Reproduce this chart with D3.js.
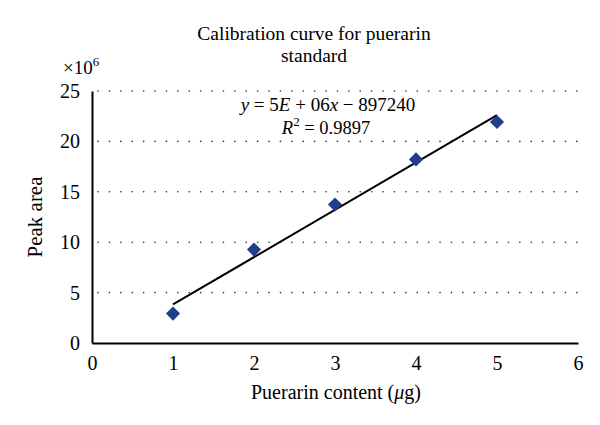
<!DOCTYPE html>
<html>
<head>
<meta charset="utf-8">
<script src="https://cdn.jsdelivr.net/npm/d3@7"></script>
<style>
    body { margin: 0; background: #fff; }
    svg text { font-family: "Liberation Serif", "DejaVu Serif", serif; fill: #000; }
</style>
</head>
<body>
<svg id="chart" width="600" height="425"></svg>
<script>
'use strict';

// puerarin content (ug) and peak area (x10^6)
const contents = [1, 2, 3, 4, 5];
const peakAreas = [2.92, 9.27, 13.74, 18.21, 21.92];
const xTicks = [0, 1, 2, 3, 4, 5, 6];
const yTicks = [0, 5, 10, 15, 20, 25];

const M = { left: 92, right: 22, top: 91, bottom: 82 };
const W = 600, H = 425;

let svg = d3.select('#chart');

let x = d3.scaleLinear().domain([0, 6]).range([M.left, W - M.right]);
let y = d3.scaleLinear().domain([0, 25]).range([H - M.bottom, M.top]);

// dotted grid
svg.append('g')
    .selectAll('line')
    .data(yTicks.filter((d) => d > 0))
    .enter()
    .append('line')
    .attr('x1', x(0) + 6)
    .attr('x2', x(6))
    .attr('y1', (d) => y(d))
    .attr('y2', (d) => y(d))
    .attr('stroke', '#333')
    .attr('stroke-width', 1.6)
    .attr('stroke-linecap', 'round')
    .attr('stroke-dasharray', '0.1 11.3');

// axes
let xAxis = svg.append('g')
    .attr('transform', `translate(0,${y(0)})`)
    .call(d3.axisBottom(x).tickValues(xTicks).tickFormat(d3.format('d')).tickSize(0).tickPadding(10));
let yAxis = svg.append('g')
    .attr('transform', `translate(${x(0)},0)`)
    .call(d3.axisLeft(y).tickValues(yTicks).tickFormat(d3.format('d')).tickSize(0).tickPadding(12));

[xAxis, yAxis].forEach((g) => {
    g.select('.domain').attr('stroke', '#000').attr('stroke-width', 2);
    g.selectAll('text').style('font-size', '20px').attr('fill', '#000');
});
xAxis.selectAll('text').attr('dy', '0.85em');

// least squares trend line
let mx = d3.mean(contents), my = d3.mean(peakAreas);
let slope = d3.sum(contents, (c, i) => (c - mx) * (peakAreas[i] - my)) /
    d3.sum(contents, (c) => (c - mx) * (c - mx));
let icpt = my - slope * mx;
let ends = [d3.min(contents), d3.max(contents)];

svg.append('line')
    .attr('x1', x(ends[0]))
    .attr('y1', y(slope * ends[0] + icpt))
    .attr('x2', x(ends[1]))
    .attr('y2', y(slope * ends[1] + icpt))
    .attr('stroke', '#000')
    .attr('stroke-width', 2);

// diamonds
svg.append('g')
    .selectAll('path')
    .data(contents)
    .enter()
    .append('path')
    .attr('d', d3.symbol().type(d3.symbolSquare).size(100))
    .attr('transform', (d, i) => `translate(${x(d)},${y(peakAreas[i])}) rotate(45)`)
    .attr('fill', '#1f3f8c');

// titles
let title = svg.append('text')
    .attr('x', 314)
    .attr('y', 40)
    .attr('text-anchor', 'middle')
    .style('font-size', '19.5px');
title.append('tspan').text('Calibration curve for puerarin');
title.append('tspan').attr('x', 314).attr('dy', 22).text('standard');

let exp = svg.append('text')
    .attr('x', 63)
    .attr('y', 74)
    .style('font-size', '19px');
exp.append('tspan').text('×10');
exp.append('tspan').attr('dy', -8).style('font-size', '13px').text('6');

svg.append('text')
    .attr('transform', `translate(42,${(y(0) + y(25)) / 2}) rotate(-90)`)
    .attr('text-anchor', 'middle')
    .style('font-size', '21px')
    .text('Peak area');

let xl = svg.append('text')
    .attr('x', 336)
    .attr('y', 399)
    .attr('text-anchor', 'middle')
    .style('font-size', '20px');
xl.append('tspan').text('Puerarin content (');
xl.append('tspan').style('font-style', 'italic').text('μ');
xl.append('tspan').text('g)');

// equation
let eq = svg.append('text')
    .attr('x', 328)
    .attr('y', 111)
    .attr('text-anchor', 'middle')
    .style('font-size', '19px');
eq.append('tspan').style('font-style', 'italic').text('y');
eq.append('tspan').text(' = 5');
eq.append('tspan').style('font-style', 'italic').text('E');
eq.append('tspan').text(' + 06');
eq.append('tspan').style('font-style', 'italic').text('x');
eq.append('tspan').text(' − 897240');

let r2 = svg.append('text')
    .attr('x', 326)
    .attr('y', 134)
    .attr('text-anchor', 'middle')
    .style('font-size', '18.5px');
r2.append('tspan').style('font-style', 'italic').text('R');
r2.append('tspan').attr('dy', -8).style('font-size', '13px').text('2');
r2.append('tspan').attr('dy', 8).text(' = 0.9897');
</script>
</body>
</html>
